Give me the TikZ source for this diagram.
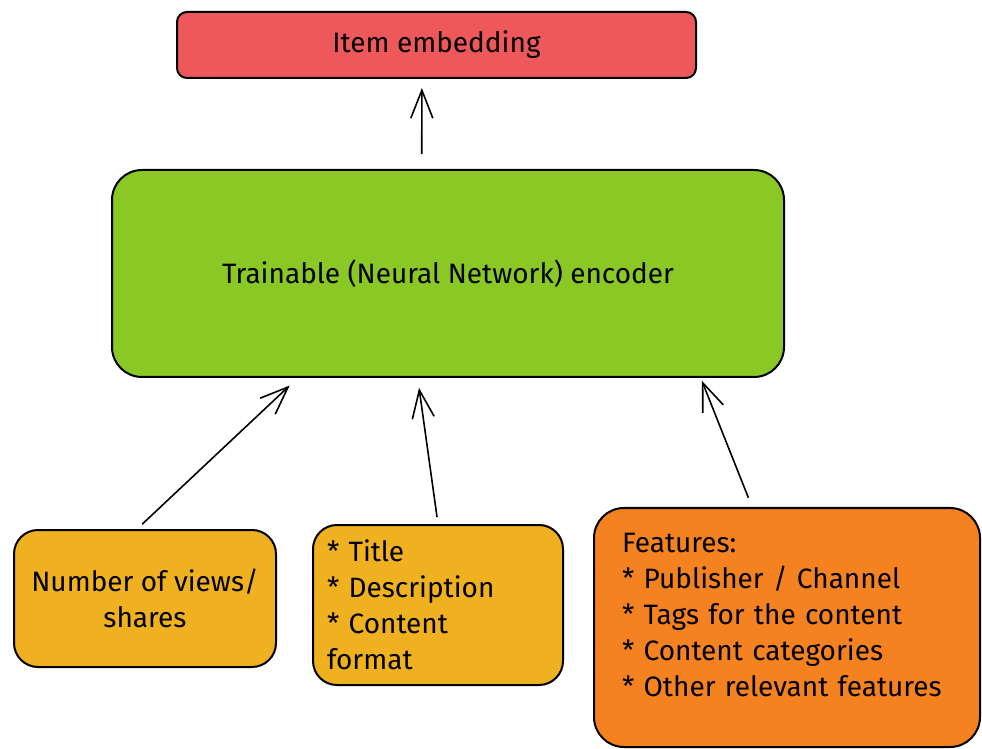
\documentclass[tikz,border=0pt]{standalone}
\usepackage{fontspec}
\setmainfont{Fira Sans}
\usetikzlibrary{arrows.meta,calc}
\definecolor{embred}{RGB}{238,88,91}
\definecolor{encgreen}{RGB}{138,200,37}
\definecolor{inyellow}{RGB}{240,177,33}
\definecolor{inorange}{RGB}{245,130,33}
\tikzset{
  box/.style={draw=black, line width=1pt, inner sep=0pt, font=\fontsize{14pt}{18pt}\selectfont},
  arr/.style={draw=black, line width=0.8pt, -{Straight Barb[length=14pt,width=11pt,line width=0.8pt]}},
}
\begin{document}
\begin{tikzpicture}[x=0.5pt,y=-0.5pt]
\useasboundingbox (0,0) rectangle (982,749);
\node[box, fill=embred, rounded corners=5pt, minimum width=259.5pt, minimum height=33pt] (emb) at (436.5,45) {Item embedding};
\node[box, fill=encgreen, rounded corners=15pt, minimum width=336pt, minimum height=103.5pt] (enc) at (448,273.5) {Trainable (Neural Network) encoder};
\node[box, fill=inyellow, rounded corners=12pt, minimum width=131pt, minimum height=68.5pt, align=center] (views) at (145,598.5) {Number of views/\\shares};
\node[box, fill=inyellow, rounded corners=12pt, minimum width=125pt, minimum height=80pt, text width=111pt, align=left] (meta) at (438,605) {* Title\\{}* Description\\{}* Content\\format};
\node[box, fill=inorange, rounded corners=15pt, minimum width=193pt, minimum height=119.5pt, text width=165pt, align=left] (feat) at (787,627.5) {Features:\\{}* Publisher / Channel\\{}* Tags for the content\\{}* Content categories\\{}* Other relevant features\\[-5pt]\mbox{}};
\draw[arr, shorten <=7.5pt, shorten >=4.5pt] ($(enc.north west)!0.461!(enc.north east)$) -- ($(emb.south west)!0.472!(emb.south east)$);
\draw[arr, shorten <=3.5pt, shorten >=5.5pt] ($(views.north west)!0.47!(views.north east)$) -- ($(enc.south west)!0.277!(enc.south east)$);
\draw[arr, shorten <=3.5pt, shorten >=5pt] (meta.north) -- ($(enc.south west)!0.455!(enc.south east)$);
\draw[arr, shorten <=5pt, shorten >=1.5pt] ($(feat.north west)!0.41!(feat.north east)$) -- ($(enc.south west)!0.875!(enc.south east)$);
\end{tikzpicture}
\end{document}
